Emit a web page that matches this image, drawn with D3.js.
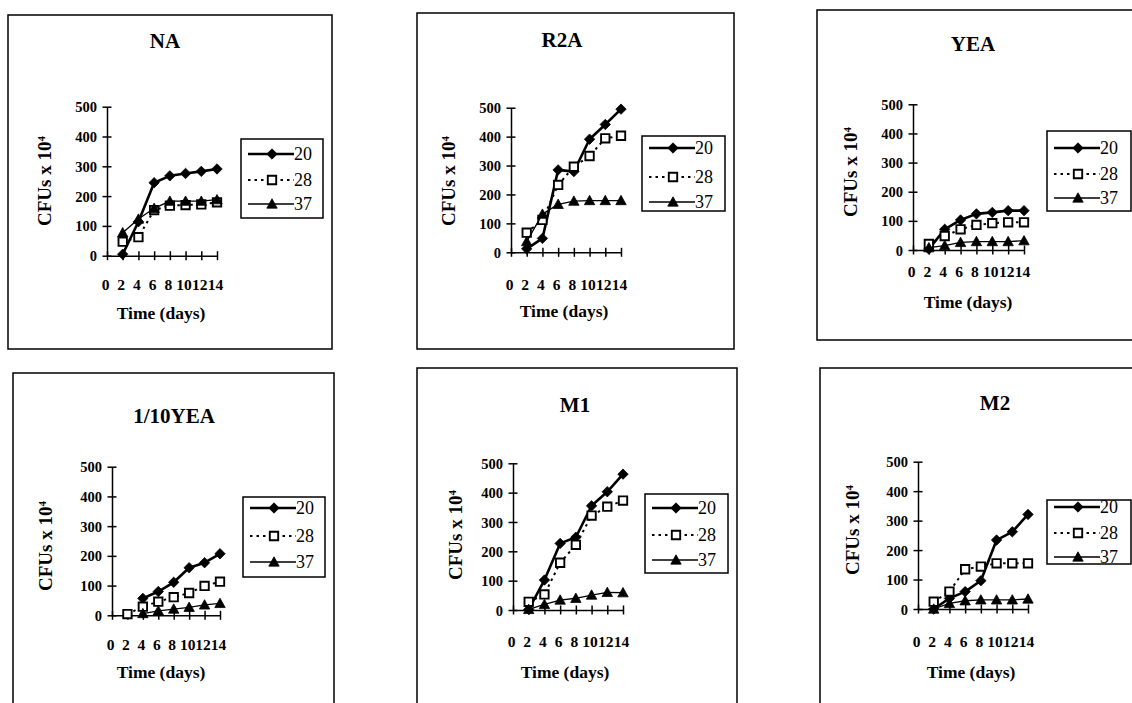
<!DOCTYPE html>
<html>
<head>
<meta charset="utf-8">
<script src="https://cdn.jsdelivr.net/npm/d3@7"></script>
<style>
  html, body { margin: 0; padding: 0; background: #fff; }
  svg { display: block; }
  text { font-family: "Liberation Serif", "Times New Roman", serif; fill: #000; }
</style>
</head>
<body>
<script>
// ---------------- DATA ----------------
const days = [2, 4, 6, 8, 10, 12, 14];
const xTicks = [0, 2, 4, 6, 8, 10, 12, 14];
const yTicks = [0, 100, 200, 300, 400, 500];
const media = ["NA", "R2A", "YEA", "1/10YEA", "M1", "M2"];
const temps = ["20", "28", "37"];

const na20 = [5, 114, 245, 268, 276, 283, 291];
const na28 = [47, 62, 153, 168, 170, 172, 179];
const na37 = [77, 123, 159, 183, 183, 183, 188];

const r2a20 = [12, 48, 285, 279, 391, 442, 495];
const r2a28 = [68, 112, 233, 296, 333, 394, 403];
const r2a37 = [37, 132, 166, 177, 179, 179, 179];

const yea20 = [3, 71, 103, 124, 129, 135, 135];
const yea28 = [21, 48, 71, 86, 92, 95, 95];
const yea37 = [8, 15, 26, 29, 29, 29, 32];

const tenthYea20 = [null, 57, 80, 111, 160, 177, 207];
const tenthYea28 = [4, 29, 46, 61, 75, 99, 113];
const tenthYea37 = [null, 6, 15, 21, 27, 35, 40];

const m1_20 = [2, 102, 227, 248, 355, 403, 463];
const m1_28 = [28, 53, 161, 222, 322, 352, 373];
const m1_37 = [2, 19, 34, 40, 51, 60, 59];

const m2_20 = [0, 36, 59, 96, 234, 262, 321];
const m2_28 = [25, 59, 135, 144, 155, 155, 155];
const m2_37 = [0, 19, 28, 31, 31, 31, 34];

const panelSeries = [
  [na20, na28, na37],
  [r2a20, r2a28, r2a37],
  [yea20, yea28, yea37],
  [tenthYea20, tenthYea28, tenthYea37],
  [m1_20, m1_28, m1_37],
  [m2_20, m2_28, m2_37]
];

// ---------------- LAYOUT ----------------
const layouts = [
  {frame:[8,15,332,349], left:107, right:217, top:106.7, bottom:255.7, titleX:165, titleY:48, yTitleX:44, yTitleY:181, xLabY:290, xTitleX:161, xTitleY:319, leg:[241,139,323,218], rows:[154,180,204]},
  {frame:[417,13,734,349], left:511, right:621, top:107.7, bottom:252.3, titleX:562, titleY:47, yTitleX:448, yTitleY:181, xLabY:290, xTitleX:564, xTitleY:317, leg:[642,136,725,211], rows:[148,177,202]},
  {frame:[817,10,1145,340], left:913, right:1024, top:104.3, bottom:250, titleX:973, titleY:51, yTitleX:850, yTitleY:172, xLabY:277, xTitleX:968, xTitleY:308, leg:[1047,131,1131,211], rows:[148,174,198]},
  {frame:[13,373,334,720], left:112, right:220, top:466.7, bottom:615.3, titleX:174, titleY:423, yTitleX:45, yTitleY:546, xLabY:650, xTitleX:161, xTitleY:678, leg:[243,497,325,577], rows:[508,536,562]},
  {frame:[417,368,737,720], left:513, right:623, top:463.3, bottom:610, titleX:575, titleY:412, yTitleX:455, yTitleY:535, xLabY:647, xTitleX:565, xTitleY:678, leg:[645,494,728,573], rows:[508,535,560]},
  {frame:[820,368,1145,720], left:918, right:1028, top:461.7, bottom:609, titleX:995, titleY:410, yTitleX:852, yTitleY:530, xLabY:647, xTitleX:971, xTitleY:678, leg:[1047,500,1131,564], rows:[507,533,557]}
];

const seriesStyle = [
  {width: 2.6, dash: null, marker: "diamond"},
  {width: 2.0, dash: "2.5,4", marker: "square"},
  {width: 1.3, dash: null, marker: "triangle"}
];

// ---------------- DRAW ----------------
const W = 1132, H = 703;
const svg = d3.select("body").append("svg").attr("width", W).attr("height", H);
svg.append("rect").attr("width", W).attr("height", H).attr("fill", "#fff");

function markerPath(type, cx, cy) {
  if (type === "diamond") {
    const r = 5.2;
    return `M${cx},${cy - r}L${cx + r},${cy}L${cx},${cy + r}L${cx - r},${cy}Z`;
  }
  if (type === "square") {
    const h = 4.2;
    return `M${cx - h},${cy - h}H${cx + h}V${cy + h}H${cx - h}Z`;
  }
  const s = 5.2;
  return `M${cx},${cy - s}L${cx + s},${cy + s * 0.8}L${cx - s},${cy + s * 0.8}Z`;
}

function drawMarker(g, type, cx, cy) {
  const p = g.append("path").attr("d", markerPath(type, cx, cy));
  if (type === "square") p.attr("fill", "#fff").attr("stroke", "#000").attr("stroke-width", 1.9);
  else p.attr("fill", "#000").attr("stroke", "#000").attr("stroke-width", 0.8);
}

const FONT = "Liberation Serif, Times New Roman, serif";

media.forEach((name, i) => {
  const L = layouts[i];
  const g = svg.append("g");

  // frame
  g.append("rect")
    .attr("x", L.frame[0]).attr("y", L.frame[1])
    .attr("width", L.frame[2] - L.frame[0]).attr("height", L.frame[3] - L.frame[1])
    .attr("fill", "none").attr("stroke", "#000").attr("stroke-width", 1.5);

  // title
  g.append("text").attr("x", L.titleX).attr("y", L.titleY)
    .attr("text-anchor", "middle").attr("font-size", 21).attr("font-weight", "bold")
    .text(name);

  const x = d3.scaleLinear().domain([0, 14]).range([L.left, L.right]);
  const y = d3.scaleLinear().domain([0, 500]).range([L.bottom, L.top]);

  // x axis
  const gx = g.append("g").attr("transform", `translate(0,${L.bottom})`)
    .call(d3.axisBottom(x).tickValues(xTicks).tickSize(4.5).tickSizeOuter(0).tickFormat(d3.format("d")));
  gx.select(".domain").attr("stroke", "#000").attr("stroke-width", 1.5);
  gx.selectAll(".tick line").attr("y1", -4.5).attr("stroke", "#000").attr("stroke-width", 1.5);
  gx.selectAll(".tick text")
    .attr("y", L.xLabY - L.bottom).attr("dy", 0).attr("dx", -2)
    .attr("font-size", 15.5).attr("font-weight", "bold")
    .attr("font-family", FONT).attr("fill", "#000");

  // y axis
  const gy = g.append("g").attr("transform", `translate(${L.left},0)`)
    .call(d3.axisLeft(y).tickValues(yTicks).tickSize(4.5).tickSizeOuter(0));
  gy.select(".domain").attr("stroke", "#000").attr("stroke-width", 1.5);
  gy.selectAll(".tick line").attr("x1", 4.5).attr("stroke", "#000").attr("stroke-width", 1.5);
  gy.selectAll(".tick text")
    .attr("x", -10).attr("dy", "0.35em")
    .attr("font-size", 14.5).attr("font-weight", "bold")
    .attr("font-family", FONT).attr("fill", "#000");

  // y title
  const yt = g.append("text")
    .attr("transform", `translate(${L.yTitleX},${L.yTitleY}) rotate(-90)`)
    .attr("text-anchor", "middle").attr("dy", "0.35em")
    .attr("font-size", 19).attr("font-weight", "bold");
  yt.append("tspan").text("CFUs x 10");
  yt.append("tspan").attr("dy", "-0.5em").attr("font-size", 11).text("4");

  // x title
  g.append("text").attr("x", L.xTitleX).attr("y", L.xTitleY)
    .attr("text-anchor", "middle").attr("font-size", 17.5).attr("font-weight", "bold")
    .text("Time (days)");

  // series
  panelSeries[i].forEach((vals, s) => {
    const st = seriesStyle[s];
    const pts = days.map((d, k) => ({d, v: vals[k]})).filter(p => p.v !== null);
    const line = d3.line().x(p => x(p.d)).y(p => y(p.v));
    const path = g.append("path").attr("d", line(pts))
      .attr("fill", "none").attr("stroke", "#000").attr("stroke-width", st.width)
      .attr("stroke-linejoin", "round");
    if (st.dash) path.attr("stroke-dasharray", st.dash);
    pts.forEach(p => drawMarker(g, st.marker, x(p.d), y(p.v)));
  });

  // legend
  const [bx1, by1, bx2, by2] = L.leg;
  g.append("rect").attr("x", bx1).attr("y", by1)
    .attr("width", bx2 - bx1).attr("height", by2 - by1)
    .attr("fill", "#fff").attr("stroke", "#000").attr("stroke-width", 1.5);
  temps.forEach((t, s) => {
    const st = seriesStyle[s];
    const ry = L.rows[s];
    const ln = g.append("line").attr("x1", bx1 + 7).attr("x2", bx1 + 53)
      .attr("y1", ry).attr("y2", ry)
      .attr("stroke", "#000").attr("stroke-width", st.width);
    if (st.dash) ln.attr("stroke-dasharray", st.dash);
    drawMarker(g, st.marker, bx1 + 31, ry);
    g.append("text").attr("x", bx1 + 53).attr("y", ry).attr("dy", "0.35em")
      .attr("font-size", 18).text(t);
  });
});
</script>
</body>
</html>
